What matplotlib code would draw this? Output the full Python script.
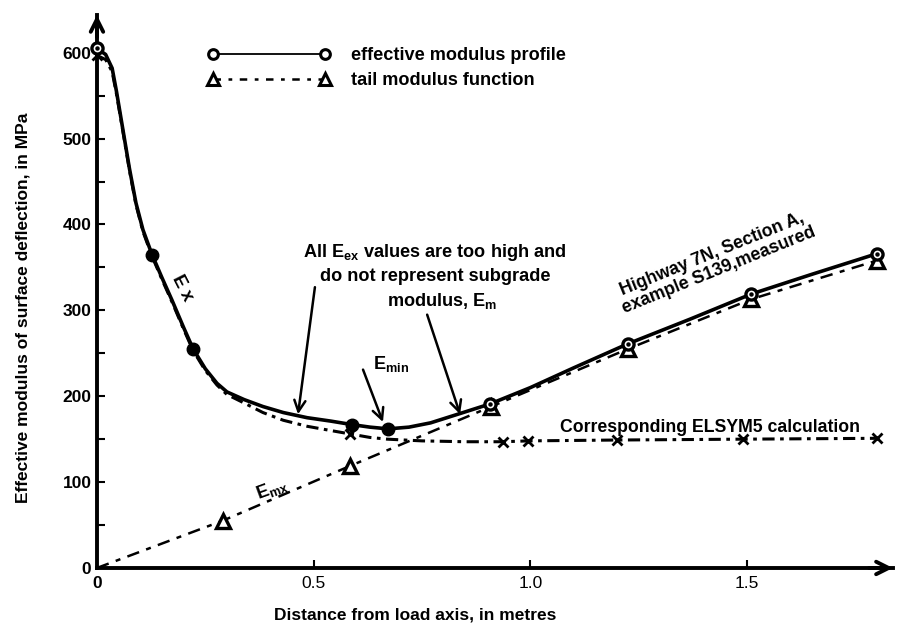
import matplotlib
matplotlib.use("Agg")
import matplotlib.pyplot as plt
from matplotlib.lines import Line2D

plt.rcParams['font.family'] = ['Liberation Sans', 'DejaVu Sans']
plt.rcParams['font.weight'] = 'bold'
plt.rcParams['axes.labelweight'] = 'bold'
plt.rcParams['mathtext.fontset'] = 'custom'
plt.rcParams['mathtext.rm'] = 'Liberation Sans:bold'
plt.rcParams['mathtext.it'] = 'Liberation Sans:bold'
plt.rcParams['mathtext.bf'] = 'Liberation Sans:bold'

# ---- data ----
# effective modulus profile (measured), traced curve
ex_curve_x = [0, 0.02, 0.035, 0.045, 0.06, 0.075, 0.09, 0.106, 0.127, 0.15, 0.173, 0.2,
              0.222, 0.25, 0.277, 0.30, 0.34, 0.383, 0.43, 0.485, 0.54, 0.588, 0.63,
              0.672, 0.72, 0.77, 0.845, 0.907, 1.0, 1.1, 1.225, 1.37, 1.51, 1.65, 1.8]
ex_curve_y = [605, 598, 582, 555, 510, 465, 425, 394, 365, 338, 312, 280,
              255, 232, 215, 205, 196, 188, 181, 175, 171, 167, 164,
              162, 164, 169, 181, 191, 210, 233, 261, 290, 319, 342, 366]
# measured points: filled dots and ring markers
ex_dot_x = [0.127, 0.222, 0.588, 0.672]
ex_dot_y = [365, 255, 167, 162]
ex_ring_x = [0, 0.907, 1.225, 1.51, 1.8]
ex_ring_y = [605, 191, 261, 319, 366]

# tail modulus function
tail_x = [0, 0.29, 0.585, 0.91, 1.225, 1.51, 1.8]
tail_y = [0, 55, 119, 188, 255, 313, 358]

# corresponding ELSYM5 calculation
els_x = [0, 0.02, 0.035, 0.045, 0.06, 0.075, 0.09, 0.106, 0.127, 0.15, 0.173, 0.2,
         0.222, 0.25, 0.277, 0.30, 0.34, 0.383, 0.43, 0.485, 0.54, 0.585, 0.63,
         0.67, 0.75, 0.85, 0.937, 0.995, 1.2, 1.49, 1.8]
els_y = [597, 592, 578, 552, 508, 463, 423, 392, 363, 336, 310, 278,
         253, 230, 213, 202, 192, 181, 172, 165, 160, 156, 152,
         150, 148, 147, 147, 148, 149, 150, 151]
els_mark_x = [0, 0.585, 0.937, 0.995, 1.2, 1.49, 1.8]
els_mark_y = [597, 156, 147, 148, 149, 150, 151]

yticks = [0, 100, 200, 300, 400, 500, 600]
xticks = [0.5, 1.0, 1.5]
xticklabels = ['0.5', '1.0', '1.5']

FS = 13.1
FSL = 12.5

fig = plt.figure(figsize=(8.97, 6.26), dpi=100)
ax = fig.add_axes([0.1081, 0.0927, 0.8874, 0.8834])
ax.set_xlim(0, 1.837)
ax.set_ylim(0, 644)

# curves
ax.plot(ex_curve_x, ex_curve_y, color='black', lw=2.6, solid_capstyle='round', zorder=5)
ax.plot(ex_dot_x, ex_dot_y, ls='none', marker='o', ms=9, mfc='black', mec='black', zorder=6)
ax.plot(ex_ring_x, ex_ring_y, ls='none', marker='o', ms=8, mfc='white', mec='black',
        mew=2.4, zorder=7, clip_on=False)
ax.plot(ex_ring_x, ex_ring_y, ls='none', marker='o', ms=2.2, mfc='black', mec='black',
        zorder=8, clip_on=False)

ax.plot(tail_x, tail_y, color='black', lw=1.8, dashes=[5, 3, 2, 3], zorder=3)
ax.plot(tail_x[1:], tail_y[1:], ls='none', marker='^', ms=10, mfc='white', mec='black',
        mew=2.4, zorder=4)

ax.plot(els_x, els_y, color='black', lw=2.2, dashes=[4, 1.8, 1.2, 1.8], zorder=3)
ax.plot(els_mark_x, els_mark_y, ls='none', marker='x', ms=7, mec='black', mew=2.0,
        zorder=4, clip_on=False)

# axes styling
for s in ['top', 'right']:
    ax.spines[s].set_visible(False)
for s in ['left', 'bottom']:
    ax.spines[s].set_linewidth(2.8)
ax.set_yticks(yticks)
ax.set_yticks([50, 150, 250, 350, 450, 550], minor=True)
ax.set_xticks([0] + xticks)
ax.set_xticklabels(['0'] + xticklabels)
ax.tick_params(axis='both', which='both', direction='in', width=1.5, labelsize=FSL)
ax.tick_params(axis='y', which='major', length=6, pad=4)
ax.tick_params(axis='y', which='minor', length=6)
ax.tick_params(axis='x', which='major', length=6, pad=6)
for lab in ax.get_xticklabels()[1:]:
    lab.set_fontweight('normal')

# axis arrows
ax.annotate('', xy=(1.0, 0), xytext=(0.97, 0), xycoords='axes fraction',
            arrowprops=dict(arrowstyle='->,head_length=0.9,head_width=0.45', lw=2.8,
                            color='black', shrinkA=0, shrinkB=0), annotation_clip=False)
ax.annotate('', xy=(0, 1.0), xytext=(0, 0.96), xycoords='axes fraction',
            arrowprops=dict(arrowstyle='->,head_length=0.9,head_width=0.45', lw=2.8,
                            color='black', shrinkA=0, shrinkB=0), annotation_clip=False)

ax.set_xlabel('Distance from load axis, in metres', fontsize=FSL)
ax.xaxis.set_label_coords(0.40, -0.071)
ax.set_ylabel('Effective modulus of surface deflection, in MPa', fontsize=FSL)
ax.yaxis.set_label_coords(-0.083, 0.47)

# legend
h1 = Line2D([], [], color='black', lw=1.3, marker='o', ms=7, mfc='white', mec='black', mew=2.2)
h2 = Line2D([], [], color='black', lw=1.8, dashes=[3, 3, 1.5, 3], marker='^', ms=9,
            mfc='white', mec='black', mew=2.2)
leg = ax.legend([h1, h2], ['effective modulus profile', 'tail modulus function'],
                loc='upper left', bbox_to_anchor=(0.1388, 0.942), frameon=False,
                numpoints=2, handlelength=6.75, handletextpad=1.15, borderpad=0,
                borderaxespad=0, labelspacing=0.45, fontsize=FS)

# annotations
ax.text(0.197, 326, 'E x', rotation=-63, fontsize=FS, ha='center', va='center')
ax.text(0.404, 92, 'E$_{mx}$', rotation=20, fontsize=FS, ha='center', va='center')
ax.text(0.78, 367, 'All E$_{ex}$ values are too high and', fontsize=FS, ha='center', va='center')
ax.text(0.78, 339, 'do not represent subgrade', fontsize=FS, ha='center', va='center')
ax.text(0.796, 311, 'modulus, E$_{m}$', fontsize=FS, ha='center', va='center')
ax.text(0.637, 237, 'E$_{min}$', fontsize=FS, ha='left', va='center')
ax.text(1.428, 356, 'Highway 7N, Section A,\nexample S139,measured', rotation=22,
        fontsize=FS - 0.3, ha='center', va='center', multialignment='center', linespacing=1.0,
        rotation_mode='anchor')
ax.text(1.415, 164, 'Corresponding ELSYM5 calculation', fontsize=FS - 0.4, ha='center',
        va='center')

arr = dict(arrowstyle='->,head_length=0.8,head_width=0.4', lw=1.8, color='black',
           shrinkA=0, shrinkB=0)
ax.annotate('', xy=(0.464, 179), xytext=(0.503, 327), arrowprops=arr)
ax.annotate('', xy=(0.838, 179), xytext=(0.762, 295), arrowprops=arr)
ax.annotate('', xy=(0.66, 170), xytext=(0.614, 231), arrowprops=arr)

fig.savefig('out.png', dpi=100)
